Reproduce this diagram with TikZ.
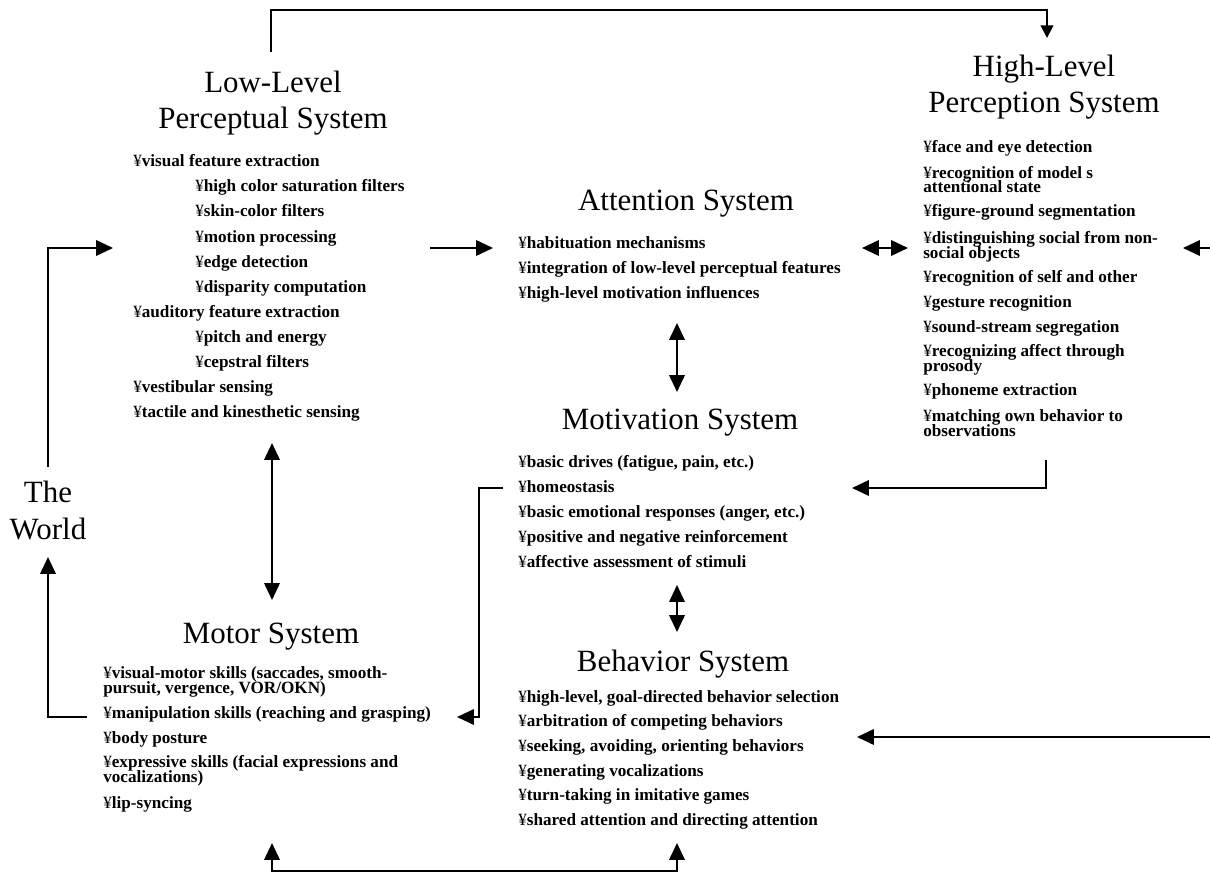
\documentclass[tikz,border=0pt]{standalone}
\usepackage{fontspec}
\setmainfont{Liberation Serif}
\usetikzlibrary{arrows.meta}

\newcommand{\itemmark}{{\mdseries ¥}}
\newcommand{\itemfont}{\fontsize{12.2}{10.5}\selectfont\bfseries\setlength{\lineskiplimit}{-20pt}}

\tikzset{
    title/.style={anchor=base, align=center, inner sep=0pt,
        font=\fontsize{22}{26}\selectfont},
    item/.style={anchor=base west, align=left, inner sep=0pt,
        font=\itemfont},
    link/.style={line width=1.4pt, -{Triangle[length=12pt,width=11pt]}},
    twolink/.style={line width=1.4pt, {Triangle[length=12pt,width=11pt]}-{Triangle[length=12pt,width=11pt]}}
}

\begin{document}
\begin{tikzpicture}[x=0.025cm, y=-0.025cm]
        \useasboundingbox (0,0) rectangle (1210,873);
        % Titles (base = last line)
        \node[title] (world) at (48,539) {The\\World};
        \node[title] (ll-title) at (273,129) {Low-Level\\Perceptual System};
        \node[title] (hl-title) at (1044,113) {High-Level\\Perception System};
        \node[title] (att-title) at (686,211) {Attention System};
        \node[title] (mot-title) at (680,429) {Motivation System};
        \node[title] (beh-title) at (683,671) {Behavior System};
        \node[title] (mtr-title) at (271,643) {Motor System};
        % Low-level perceptual system
        \foreach \x/\y/\t [count=\i] in {
            133/167/{visual feature extraction},
            195/192/{high color saturation filters},
            195/217/{skin-color filters},
            195/242/{motion processing},
            195/267/{edge detection},
            195/292/{disparity computation},
            133/317/{auditory feature extraction},
            195/342/{pitch and energy},
            195/367/{cepstral filters},
            133/392/{vestibular sensing},
            133/417/{tactile and kinesthetic sensing}} {
            \node[item] (ll-\i) at (\x,\y) {\itemmark\t};
        }
        % High-level perception system
        \foreach \y/\t [count=\i] in {
            153/{face and eye detection},
            193/{recognition of model s\\attentional state},
            217/{figure-ground segmentation},
            258/{distinguishing social from non-\\social objects},
            282/{recognition of self and other},
            307/{gesture recognition},
            332/{sound-stream segregation},
            371/{recognizing affect through\\prosody},
            395/{phoneme extraction},
            436/{matching own behavior to\\observations}} {
            \node[item] (hl-\i) at (923,\y) {\itemmark\t};
        }
        % Attention system
        \foreach \t [count=\i] in {
            {habituation mechanisms},
            {integration of low-level perceptual features},
            {high-level motivation influences}} {
            \node[item] (att-\i) at (518,248+25*\i-25) {\itemmark\t};
        }
        % Motivation system
        \foreach \t [count=\i] in {
            {basic drives (fatigue, pain, etc.)},
            {homeostasis},
            {basic emotional responses (anger, etc.)},
            {positive and negative reinforcement},
            {affective assessment of stimuli}} {
            \node[item] (mot-\i) at (518,467+25*\i-25) {\itemmark\t};
        }
        % Behavior system
        \foreach \t [count=\i] in {
            {high-level, goal-directed behavior selection},
            {arbitration of competing behaviors},
            {seeking, avoiding, orienting behaviors},
            {generating vocalizations},
            {turn-taking in imitative games},
            {shared attention and directing attention}} {
            \node[item] (beh-\i) at (518,702+24.7*\i-24.7) {\itemmark\t};
        }
        % Motor system
        \foreach \y/\t [count=\i] in {
            693/{visual-motor skills (saccades, smooth-\\pursuit, vergence, VOR/OKN)},
            718/{manipulation skills (reaching and grasping)},
            743/{body posture},
            782/{expressive skills (facial expressions and\\vocalizations)},
            808/{lip-syncing}} {
            \node[item] (mtr-\i) at (103,\y) {\itemmark\t};
        }
        % Connector ends
        \coordinate (ll-up) at (271,52);
        \coordinate (hl-top) at (1047,38);
        \coordinate (world-up) at (48,467);
        \coordinate (ll-in) at (113,248);
        \coordinate (mtr-out) at (87,717);
        \coordinate (world-dn) at (48,557);
        \coordinate (ll-out) at (430,248);
        \coordinate (att-in) at (493,248);
        \coordinate (att-out) at (862,248);
        \coordinate (hl-in) at (908,248);
        \coordinate (hl-edge) at (1212,248);
        \coordinate (hl-side) at (1183,248);
        \coordinate (att-dn) at (677,323);
        \coordinate (mot-up) at (677,392);
        \coordinate (mot-dn) at (677,585);
        \coordinate (beh-up) at (677,632);
        \coordinate (ll-dn) at (272,443);
        \coordinate (mtr-up) at (272,600);
        \coordinate (hl-out) at (1046,460);
        \coordinate (mot-in) at (852,488);
        \coordinate (mot-out) at (503,488);
        \coordinate (mtr-in) at (457,717);
        \coordinate (beh-edge) at (1212,737);
        \coordinate (beh-in) at (857,737);
        \coordinate (mtr-dn) at (272,843);
        \coordinate (beh-dn) at (677,843);
        % Connectors
        \draw[line width=1.4pt, -{Triangle[length=9pt,width=9pt]}]
            (ll-up) -- ++(0,-42) -| (hl-top);
        \draw[link] (world-up) |- (ll-in);
        \draw[link] (mtr-out) -| (world-dn);
        \draw[link] (ll-out) -- (att-in);
        \draw[twolink] (att-out) -- (hl-in);
        \draw[link] (hl-edge) -- (hl-side);
        \draw[twolink] (att-dn) -- (mot-up);
        \draw[twolink] (mot-dn) -- (beh-up);
        \draw[twolink] (ll-dn) -- (mtr-up);
        \draw[link] (hl-out) |- (mot-in);
        \draw[link] (mot-out) -- ++(-24,0) |- (mtr-in);
        \draw[link] (beh-edge) -- (beh-in);
        \draw[twolink] (mtr-dn) -- ++(0,28) -| (beh-dn);
    \end{tikzpicture}
\end{document}
